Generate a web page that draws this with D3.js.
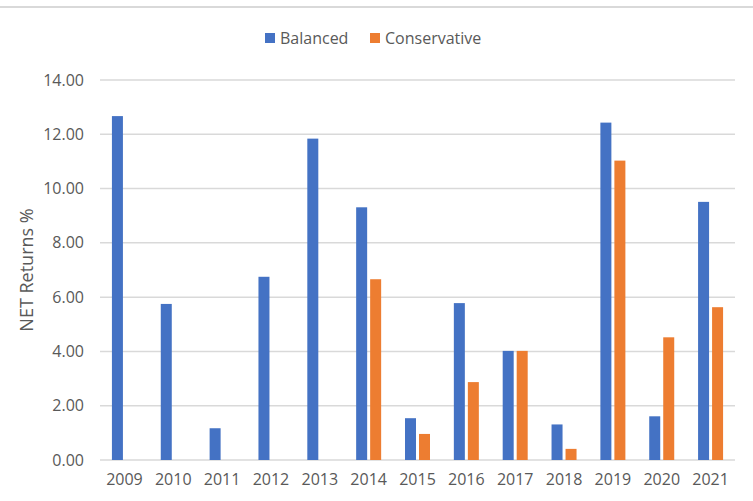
<!DOCTYPE html>
<html>
<head>
<meta charset="utf-8">
<script src="https://cdn.jsdelivr.net/npm/d3@7"></script>
<style>
  body { margin: 0; background: #fff; }
  svg text { font-family: "Open Sans", sans-serif; fill: #595959; }
</style>
</head>
<body>
<div id="chart"></div>
<script>
// values
var years = ["2009", "2010", "2011", "2012", "2013", "2014", "2015", "2016", "2017", "2018", "2019", "2020", "2021"];
var balanced = [12.67, 5.75, 1.17, 6.75, 11.84, 9.31, 1.54, 5.78, 4.02, 1.31, 12.43, 1.61, 9.51];
var conservative = [null, null, null, null, null, 6.66, 0.96, 2.87, 4.02, 0.41, 11.03, 4.52, 5.63];
var seriesNames = ["Balanced", "Conservative"];
var seriesColors = ["#4472C4", "#ED7D31"];
var yTicks = [0, 2, 4, 6, 8, 10, 12, 14];

function main() {
    var width = 753, height = 501;
    var margin = { top: 80, right: 18, bottom: 41, left: 100 };
    var innerW = width - margin.left - margin.right;
    var innerH = height - margin.top - margin.bottom;

    var svg = d3.select("#chart").append("svg")
        .attr("width", width)
        .attr("height", height);

    // top border line
    svg.append("line")
        .attr("x1", 0).attr("x2", width)
        .attr("y1", 7).attr("y2", 7)
        .attr("stroke", "#d9d9d9")
        .attr("stroke-width", 2);

    var g = svg.append("g")
        .attr("transform", "translate(" + margin.left + "," + margin.top + ")");

    var x = d3.scaleBand().domain(years).range([0, innerW]);
    var y = d3.scaleLinear().domain([0, 14]).range([innerH, 0]);

    // gridlines
    g.selectAll(".grid")
        .data(yTicks)
        .enter().append("line")
        .attr("x1", 0).attr("x2", innerW)
        .attr("y1", function (d) { return y(d); })
        .attr("y2", function (d) { return y(d); })
        .attr("stroke", "#d9d9d9")
        .attr("stroke-width", 1.5);

    // y axis labels
    var yAxis = g.append("g")
        .call(d3.axisLeft(y).tickValues(yTicks).tickFormat(d3.format(".2f")).tickSize(0).tickPadding(16));
    yAxis.select(".domain").remove();
    yAxis.selectAll("text").style("font-size", "16px").attr("fill", "#595959");

    // x axis labels
    var xAxis = g.append("g")
        .attr("transform", "translate(0," + innerH + ")")
        .call(d3.axisBottom(x).tickSize(0).tickPadding(14));
    xAxis.select(".domain").remove();
    xAxis.selectAll("text").style("font-size", "16px").attr("fill", "#595959");

    // bars
    var barW = 11, gap = 3;
    var rows = years.map(function (yr, i) {
        return { year: yr, values: [balanced[i], conservative[i]] };
    });
    var groups = g.selectAll(".year")
        .data(rows)
        .enter().append("g")
        .attr("transform", function (d) { return "translate(" + (x(d.year) + x.bandwidth() / 2) + ",0)"; });
    groups.selectAll("rect")
        .data(function (d) {
            return d.values.map(function (v, k) { return { v: v, k: k }; }).filter(function (e) { return e.v != null; });
        })
        .enter().append("rect")
        .attr("x", function (d) { return d.k === 0 ? -(barW + gap / 2) : gap / 2; })
        .attr("width", barW)
        .attr("y", function (d) { return y(d.v); })
        .attr("height", function (d) { return y(0) - y(d.v); })
        .attr("fill", function (d) { return seriesColors[d.k]; });

    // y axis title
    svg.append("text")
        .attr("transform", "translate(27," + (margin.top + innerH / 2) + ") rotate(-90)")
        .attr("text-anchor", "middle")
        .attr("dy", "0.35em")
        .style("font-size", "18px")
        .text("NET Returns %");

    // legend
    var legendX = [265, 370];
    var legend = svg.selectAll(".legend")
        .data(seriesNames)
        .enter().append("g")
        .attr("transform", function (d, i) { return "translate(" + legendX[i] + ",38)"; });
    legend.append("rect")
        .attr("x", 0).attr("y", -5)
        .attr("width", 10).attr("height", 10)
        .attr("fill", function (d, i) { return seriesColors[i]; });
    legend.append("text")
        .attr("x", 15)
        .attr("dy", "0.35em")
        .style("font-size", "16px")
        .text(function (d) { return d; });
}
window.addEventListener('load', main);
</script>
</body>
</html>
